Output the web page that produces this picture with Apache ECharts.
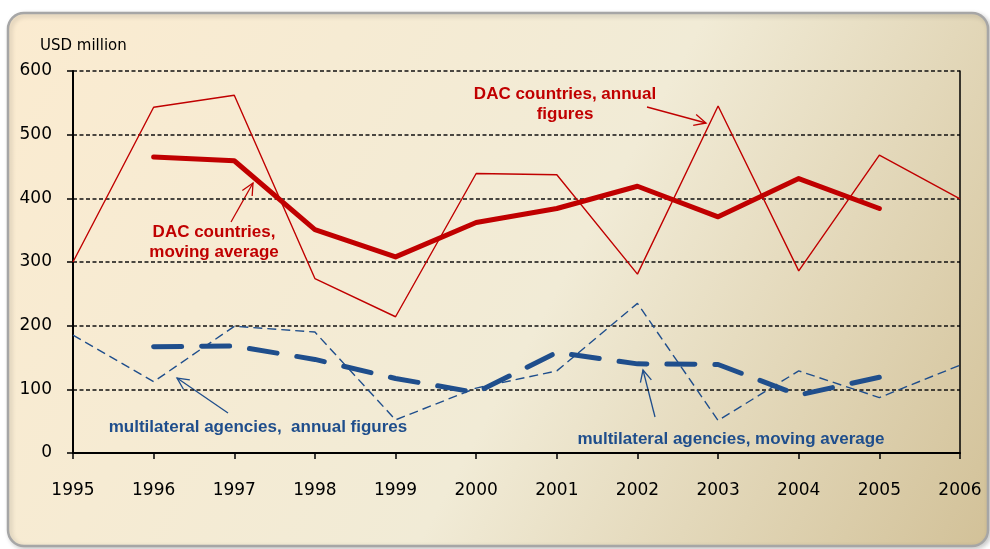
<!DOCTYPE html>
<html>
<head>
<meta charset="utf-8">
<script src="https://cdn.jsdelivr.net/npm/echarts@6/dist/echarts.min.js"></script>
<style>
html,body{margin:0;padding:0;background:#fff;}
#main{width:990px;height:549px;}
</style>
</head>
<body>
<div id="main"></div>
<script>
// years on the x axis
var years = ['1995','1996','1997','1998','1999','2000','2001','2002','2003','2004','2005','2006'];
// DAC countries
var dacAnnual = [300, 543, 562, 274, 214, 439, 437, 281, 545, 286, 468, 399];
var dacMovAvg = [null, 465, 459, 351, 308, 362, 384, 419, 371, 431, 384, null];
// multilateral agencies
var multiAnnual = [185, 112, 199, 190, 52, 102, 129, 235, 51, 129, 87, 138];
var multiMovAvg = [null, 167, 168, 147, 117, 95, 158, 140, 139, 91, 119, null];

var RED = '#c00000', BLUE = '#1f4e8c';
var tickFont = 'DejaVu Sans';
var noteFont = 'Liberation Sans';

//箭头 line + open head
function arrow(x1, y1, x2, y2, color){
    var ang = Math.atan2(y2 - y1, x2 - x1), len = 13, spread = 0.45;
    var h1 = [x2 - len * Math.cos(ang - spread), y2 - len * Math.sin(ang - spread)];
    var h2 = [x2 - len * Math.cos(ang + spread), y2 - len * Math.sin(ang + spread)];
    return {
        type: 'group',
        z: 100,
        children: [
            {type: 'polyline', shape: {points: [[x1, y1], [x2, y2]]},
                style: {stroke: color, lineWidth: 1.3, fill: null}},
            {type: 'polyline', shape: {points: [h1, [x2, y2], h2]},
                style: {stroke: color, lineWidth: 1.3, fill: null}}
        ]
    };
}
function note(x, y, txt, color){
    return {
        type: 'text', z: 100, x: x, y: y,
        style: {text: txt, fill: color, font: 'bold 17px "' + noteFont + '"',
            textAlign: 'center', textVerticalAlign: 'middle', lineHeight: 20}
    };
}

var myChart = echarts.init(document.getElementById('main'));
var option = {
    animation: false,
    graphic: [
        {
            type: 'rect', z: -10,
            shape: {x: 8, y: 13, width: 980, height: 533, r: 16},
            style: {
                fill: new echarts.graphic.LinearGradient(0, 0, 1, 1, [
                    {offset: 0, color: '#fbebd0'},
                    {offset: 0.55, color: '#f1ebd6'},
                    {offset: 1, color: '#d2c198'}
                ]),
                stroke: '#a6a6a6', lineWidth: 2.5,
                shadowBlur: 5, shadowColor: 'rgba(0,0,0,0.2)', shadowOffsetX: 2, shadowOffsetY: 2
            }
        },
        {
            type: 'text', x: 40, y: 46,
            style: {text: 'USD million', fill: '#000', font: '15px "' + tickFont + '"', textVerticalAlign: 'middle'}
        },
        note(565, 104, 'DAC countries, annual\nfigures', RED),
        arrow(647, 107, 706, 123, RED),
        note(214, 242, 'DAC countries,\nmoving average', RED),
        arrow(231, 222, 253, 183, RED),
        note(258, 427, 'multilateral agencies,  annual figures', BLUE),
        arrow(228, 413, 177, 378, BLUE),
        note(731, 439, 'multilateral agencies, moving average', BLUE),
        arrow(655, 417, 643, 370, BLUE)
    ],
    grid: {left: 73, right: 30, top: 71, bottom: 96},
    xAxis: {
        type: 'category',
        data: years,
        boundaryGap: false,
        axisLine: {lineStyle: {color: '#000', width: 2}},
        axisTick: {show: true, length: 6, lineStyle: {color: '#000', width: 1.5}},
        axisLabel: {color: '#000', fontFamily: tickFont, fontSize: 17, margin: 29}
    },
    yAxis: [{
        type: 'value',
        min: 0, max: 600, interval: 100,
        axisLine: {show: true, lineStyle: {color: '#000', width: 2}},
        axisTick: {show: true, length: 6, lineStyle: {color: '#000', width: 1.5}},
        axisLabel: {color: '#000', fontFamily: tickFont, fontSize: 17, margin: 21},
        splitLine: {show: true, lineStyle: {color: '#111', width: 1.5, type: [4, 2.5]}}
    }, {
        type: 'value',
        min: 0, max: 600, interval: 100,
        position: 'right',
        axisLine: {show: true, lineStyle: {color: '#000', width: 1.5}},
        axisTick: {show: false},
        axisLabel: {show: false},
        splitLine: {show: false}
    }],
    series: [
        {
            name: 'DAC countries, annual figures', type: 'line', data: dacAnnual,
            symbol: 'none', lineStyle: {color: RED, width: 1.4}
        },
        {
            name: 'multilateral agencies, annual figures', type: 'line', data: multiAnnual,
            symbol: 'none', lineStyle: {color: BLUE, width: 1.4, type: [9, 5]}
        },
        {
            name: 'DAC countries, moving average', type: 'line', data: dacMovAvg,
            symbol: 'none', lineStyle: {color: RED, width: 5, cap: 'round', join: 'round'}
        },
        {
            name: 'multilateral agencies, moving average', type: 'line', data: multiMovAvg,
            symbol: 'none', lineStyle: {color: BLUE, width: 5, type: [28, 20], cap: 'round', join: 'round'}
        }
    ]
};
myChart.setOption(option);
</script>
</body>
</html>
